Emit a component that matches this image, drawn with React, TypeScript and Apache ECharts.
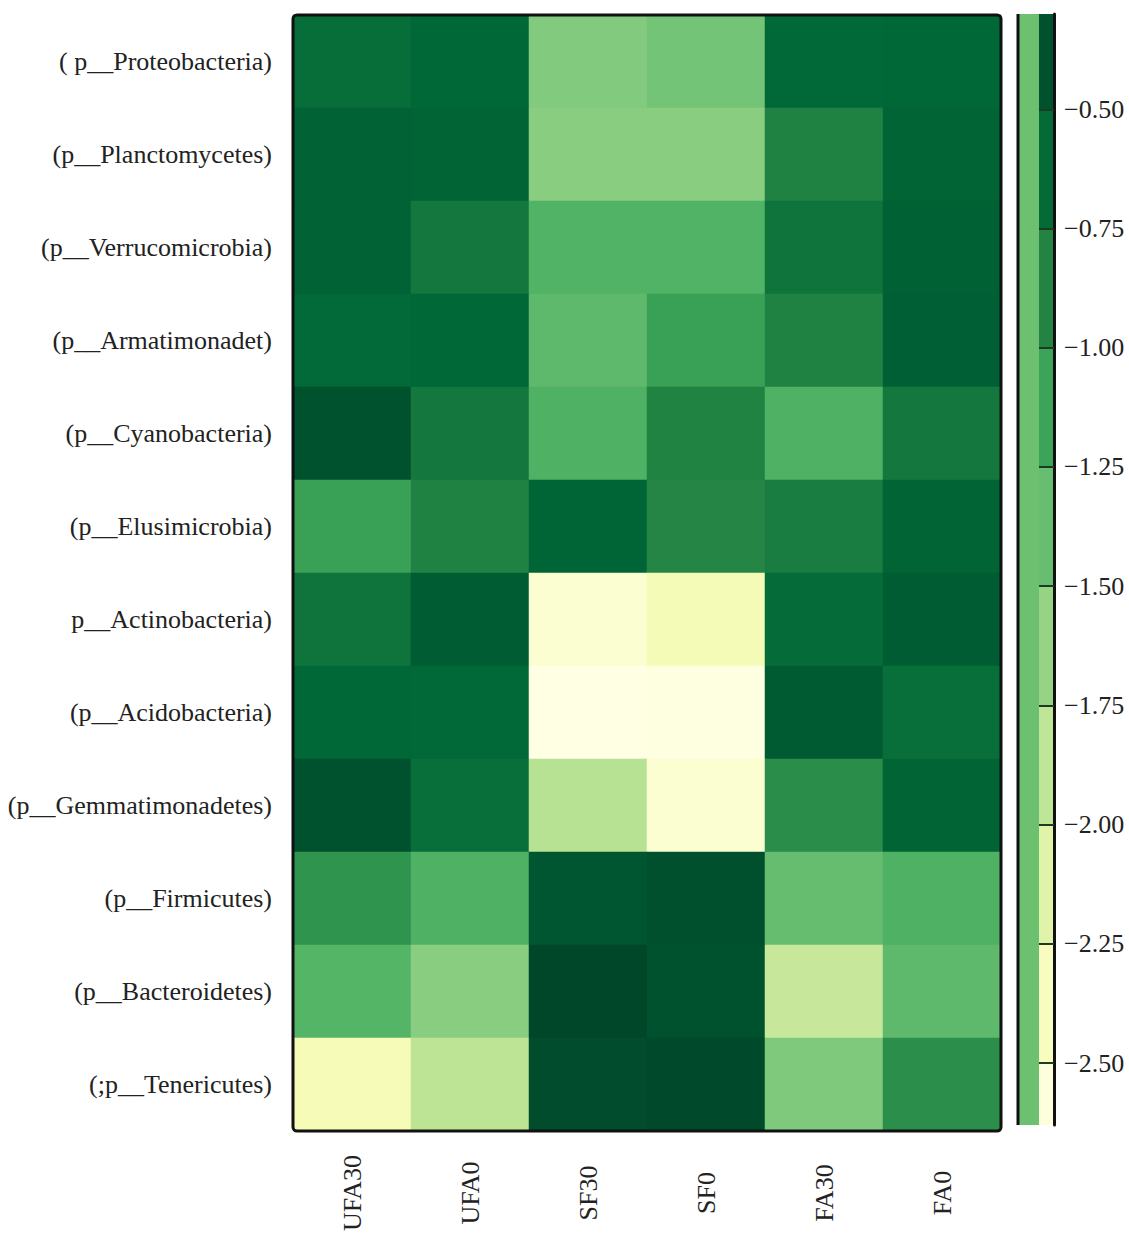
import React, { useEffect, useRef } from "react";
import * as echarts from "echarts";

// Phylum names (rows, top to bottom) and treatment groups (columns)
const phyla = [
  "( p__Proteobacteria)",
  "(p__Planctomycetes)",
  "(p__Verrucomicrobia)",
  "(p__Armatimonadet)",
  "(p__Cyanobacteria)",
  "(p__Elusimicrobia)",
  "p__Actinobacteria)",
  "(p__Acidobacteria)",
  "(p__Gemmatimonadetes)",
  "(p__Firmicutes)",
  "(p__Bacteroidetes)",
  "(;p__Tenericutes)",
];
const groups = ["UFA30", "UFA0", "SF30", "SF0", "FA30", "FA0"];

// Scaled abundance per phylum, one value per group (UFA30, UFA0, SF30, SF0, FA30, FA0)
const proteobacteria = [-0.65, -0.59, -1.52, -1.44, -0.6, -0.58];
const planctomycetes = [-0.54, -0.56, -1.56, -1.56, -0.86, -0.56];
const verrucomicrobia = [-0.54, -0.75, -1.26, -1.26, -0.72, -0.53];
const armatimonadet = [-0.61, -0.58, -1.33, -1.1, -0.86, -0.52];
const cyanobacteria = [-0.4, -0.75, -1.24, -0.87, -1.24, -0.76];
const elusimicrobia = [-1.1, -0.86, -0.57, -0.89, -0.8, -0.56];
const actinobacteria = [-0.72, -0.49, -2.49, -2.31, -0.63, -0.49];
const acidobacteria = [-0.59, -0.6, -2.62, -2.6, -0.48, -0.66];
const gemmatimonadetes = [-0.41, -0.66, -1.82, -2.5, -0.95, -0.56];
const firmicutes = [-1.0, -1.24, -0.44, -0.38, -1.37, -1.24];
const bacteroidetes = [-1.28, -1.56, -0.31, -0.41, -1.93, -1.33];
const tenericutes = [-2.33, -1.86, -0.36, -0.34, -1.5, -0.96];

const rows = [
  proteobacteria,
  planctomycetes,
  verrucomicrobia,
  armatimonadet,
  cyanobacteria,
  elusimicrobia,
  actinobacteria,
  acidobacteria,
  gemmatimonadetes,
  firmicutes,
  bacteroidetes,
  tenericutes,
];

// Colour scale range and colour-bar tick values
const scaleMin = -2.63;
const scaleMax = -0.3;
const barTicks = [-0.5, -0.75, -1.0, -1.25, -1.5, -1.75, -2.0, -2.25, -2.5];

const ylGn = [
  "#ffffe5",
  "#f7fcb9",
  "#d9f0a3",
  "#addd8e",
  "#78c679",
  "#41ab5d",
  "#238443",
  "#006837",
  "#004529",
];

const FONT = '"Liberation Serif", "Times New Roman", serif';

export default function App() {
  const ref = useRef<HTMLDivElement>(null);

  useEffect(() => {
    document.body.style.margin = "0";
    const el = ref.current;
    if (!el) return;
    const chart = echarts.init(el, undefined, { renderer: "svg" });

    const heatData: number[][] = [];
    rows.forEach((vals, r) => {
      vals.forEach((v, c) => heatData.push([c, r, v]));
    });

    // Colour bar: stepped strip on the right, split at the tick values
    const bounds = [scaleMax, ...barTicks, scaleMin];
    const stepData: number[][] = [];
    for (let i = 0; i < bounds.length - 1; i++) {
      const hi = bounds[i];
      const lo = bounds[i + 1];
      stepData.push([20, 35, (hi + lo) / 2, lo, hi]);
    }
    const plainData = [[0, 20, (scaleMin + scaleMax) / 2, scaleMin, scaleMax]];

    const renderStrip = (fixed?: string) => (params: any, api: any) => {
      const p0 = api.coord([api.value(0), api.value(4)]);
      const p1 = api.coord([api.value(1), api.value(3)]);
      return {
        type: "rect",
        shape: { x: p0[0], y: p0[1], width: p1[0] - p0[0], height: p1[1] - p0[1] },
        style: { fill: fixed || api.visual("color") },
      };
    };

    const fmt = (v: number) => Number(v).toFixed(2).replace("-", "\u2212");

    chart.setOption({
      animation: false,
      backgroundColor: "#ffffff",
      grid: [
        { left: 293, top: 15, width: 708, height: 1116 },
        { left: 1019, top: 14, width: 35, height: 1111 },
      ],
      xAxis: [
        {
          type: "category",
          gridIndex: 0,
          data: groups,
          position: "bottom",
          axisLine: { show: false },
          axisTick: { show: false },
          splitLine: { show: false },
          axisLabel: {
            rotate: 90,
            align: "center",
            verticalAlign: "middle",
            margin: 62,
            fontSize: 26,
            fontFamily: FONT,
            color: "#222",
          },
        },
        {
          type: "value",
          gridIndex: 1,
          min: 0,
          max: 35,
          show: false,
        },
      ],
      yAxis: [
        {
          type: "category",
          gridIndex: 0,
          data: phyla,
          inverse: true,
          axisLine: { show: false },
          axisTick: { show: false },
          splitLine: { show: false },
          axisLabel: {
            margin: 21,
            fontSize: 26,
            fontFamily: FONT,
            color: "#222",
          },
        },
        {
          type: "value",
          gridIndex: 1,
          min: scaleMin,
          max: scaleMax,
          position: "right",
          splitLine: { show: false },
          axisLine: { show: true, onZero: false, lineStyle: { color: "#111", width: 3 } },
          axisTick: {
            show: true,
            inside: true,
            length: 15,
            customValues: barTicks,
            lineStyle: { color: "#1d3b22", width: 2 },
          },
          axisLabel: {
            customValues: barTicks,
            formatter: fmt,
            margin: 10,
            fontSize: 26,
            fontFamily: FONT,
            color: "#222",
          },
          z: 10,
        },
      ],
      visualMap: {
        type: "continuous",
        show: false,
        min: scaleMin,
        max: scaleMax,
        dimension: 2,
        seriesIndex: [0, 1],
        inRange: { color: ylGn },
      },
      series: [
        {
          type: "heatmap",
          xAxisIndex: 0,
          yAxisIndex: 0,
          data: heatData,
          emphasis: { disabled: true },
        },
        {
          type: "custom",
          xAxisIndex: 1,
          yAxisIndex: 1,
          data: stepData,
          encode: { x: [0, 1], y: [3, 4] },
          renderItem: renderStrip(),
        },
        {
          type: "custom",
          xAxisIndex: 1,
          yAxisIndex: 1,
          data: plainData,
          encode: { x: [0, 1], y: [3, 4] },
          renderItem: renderStrip("#6cc070"),
        },
      ],
      graphic: [
        {
          type: "rect",
          z: 100,
          shape: { x: 293, y: 15, width: 708, height: 1116, r: 4 },
          style: { fill: "none", stroke: "#111", lineWidth: 3 },
        },
        {
          type: "line",
          z: 100,
          shape: { x1: 1018, y1: 14, x2: 1018, y2: 1125 },
          style: { stroke: "#111", lineWidth: 3 },
        },
      ],
    });

    return () => chart.dispose();
  }, []);

  return <div ref={ref} style={{ width: 1129, height: 1237 }} />;
}
